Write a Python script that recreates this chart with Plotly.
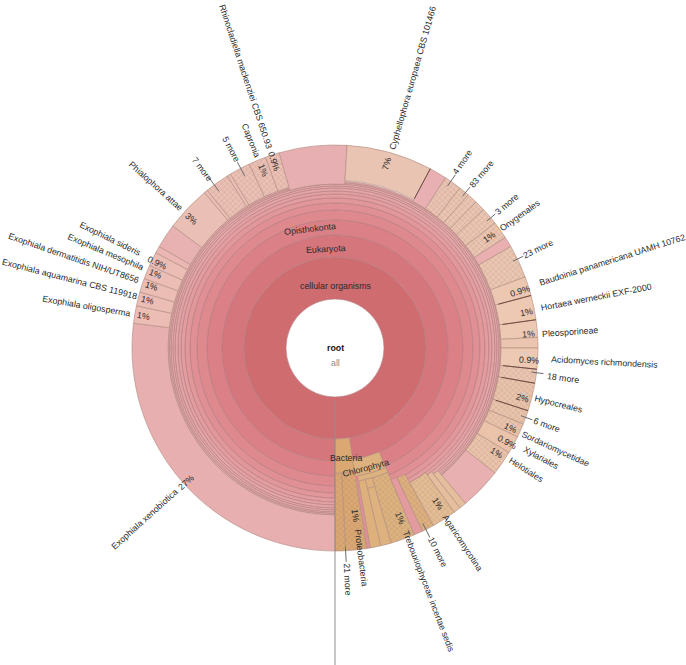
import math
import plotly.graph_objects as go

W, H = 686, 665
CX, CY, RMAX = 335, 348, 317
FS = 8.8

# ---------- data: inner taxonomy rings ----------
ring_names = ["cellular organisms", "Eukaryota", "Opisthokonta", "", "", "", "", "", "", "", "", "", ""]
ring_outer = [91, 113, 128, 138, 145, 150, 154, 157, 160, 162, 164, 165.5, 167]
ring_start = [0, 180, 180, 180, 180, 180, 180, 180, 180, 180, 180, 180, 180]
ring_end = [360, 531, 517, 517, 517, 517, 517, 517, 517, 517, 517, 517, 517]
ring_color = ["#CF6C70", "#D4767B", "#DA8086", "#DE898E", "#E09095", "#E2979B", "#E39CA0",
              "#E4A1A4", "#E4A5A7", "#E4A8A9", "#E4AAAA", "#E3ACAA", "#E2ADA9"]

# ---------- data: outer segments (name, start deg, end deg, inner radius) ----------
leaf_name = ["", "Cyphellophora europaea", "", "4 more", "83 more a", "83 more b", "83 more c", "3 more", "Onygenales", "",
             "23 more", "Baudoinia", "Hortaea", "Pleosporineae", "", "Acidomyces", "18 more", "Hypocreales", "6 more",
             "Sordariomycetidae", "Xylariales", "Helotiales", "", "", "", "Agaricomycotina", "10 more", "",
             "Trebouxiophyceae", "", "", "", "Proteobacteria", "21 more",
             "Bacteria", "Chlorophyta", "", "", "Exophiala xenobiotica", "E. oligosperma", "E. aquamarina", "E. dermatitidis",
             "E. mesophila", "E. sideris", "", "", "Phialophora attae", "", "7 more", "", "5 more", "Capronia", "Rhinocladiella"]
leaf_start = [344, 3.4, 28, 33, 38, 41, 44, 47, 52, 57,
              60, 69.5, 75, 82, 87, 90, 96, 100, 108,
              112, 116, 121, 128, 140, 142, 144, 151, 154.5,
              157, 164, 167, 170, 171, 177,
              171, 157, 157, 164, 180, 277, 282, 286,
              290, 294, 298, 300, 307, 320, 321, 328, 329, 335, 340]
leaf_end = [363.4, 28, 33, 38, 41, 44, 47, 52, 57, 60,
            69.5, 75, 82, 87, 90, 96, 100, 108, 112,
            116, 121, 128, 140, 142, 144, 151, 154.5, 157,
            164, 167, 170, 171, 177, 180,
            180, 171, 170, 167, 277, 282, 286, 290,
            294, 298, 300, 307, 320, 321, 328, 329, 335, 340, 344]
leaf_inner = [164, 168, 166, 166, 166, 166, 166, 166, 166, 166,
              166, 166, 166, 166, 166, 166, 166, 166, 166,
              166, 166, 166, 166, 160, 157, 154, 144, 143,
              135, 144, 135, 130, 125, 125,
              91, 113, 130, 135, 167, 167, 167, 167,
              167, 167, 167, 167, 167, 167, 167, 167, 167, 167, 167]
leaf_outer = [203] * 34 + [125, 130, 135, 144] + [203] * 15
leaf_color = ["#E8AFB2", "#E9C4B3", "#E9B0B4", "#EBC3B2", "#EBC5B2", "#EBC5B2", "#EBC5B2", "#EBC5B1", "#EBC5B1", "#E9AFB1",
              "#EBC6B1", "#ECC7B2", "#EDC8B2", "#EDC8B2", "#EBC5B0", "#EDC8B2", "#EBC5B0", "#EAC3AB", "#EAC3AB",
              "#EBC3AA", "#EBC3AA", "#EBC3AA", "#E8B0B1", "#E5BE9E", "#E5BE9E", "#E5BD95", "#DEB080", "#E39BA0",
              "#DEB27F", "#DEB27F", "#DEB07C", "#E0909A", "#DBA873", "#DBA873",
              "#DBA873", "#DEB27F", "#DEB27F", "#DEB27F", "#E8AFB1", "#EBBDB5", "#EBBDB5", "#EBBDB5",
              "#EBBDB5", "#EBBDB5", "#EBB6B3", "#E9B2B2", "#EAC0B6", "#EBBDB5", "#ECC0B4", "#EBBDB5", "#ECC0B4", "#ECC0B4", "#ECC0B4"]
hatched = {"4 more", "83 more a", "83 more b", "83 more c", "3 more", "Onygenales", "23 more", "18 more",
           "6 more", "Hypocreales", "Agaricomycotina", "10 more", "Proteobacteria", "21 more",
           "Trebouxiophyceae", "7 more", "5 more", "Capronia", "Rhinocladiella", "Sordariomycetidae", "Helotiales"}

dark_boundaries = [28, 75, 82, 96, 100, 108]

# ---------- data: text ----------
right_labels = ["Cyphellophora europaea CBS 101466", "4 more", "83 more", "3 more", "Onygenales", "23 more",
                "Baudoinia panamericana UAMH 10762", "Hortaea werneckii EXF-2000", "Pleosporineae",
                "Acidomyces richmondensis", "18 more", "Hypocreales", "6 more", "Sordariomycetidae", "Xylariales",
                "Helotiales", "Agaricomycotina", "10 more", "Trebouxiophyceae incertae sedis", "Proteobacteria", "21 more"]
right_theta = [16, 34.5, 40, 50, 54.3, 64, 72.4, 79, 86, 93, 97.5, 104, 110, 114.5, 118, 122.4, 146.8, 153.4, 159, 172.8, 177]
right_start = [208, 212, 212, 211, 205, 210, 215, 209, 207, 215, 214, 206, 212, 206, 214, 207, 200, 213, 195, 183, 216]
left_labels = ["Exophiala xenobiotica", "Exophiala oligosperma", "Exophiala aquamarina CBS 119918",
               "Exophiala dermatitidis NIH/UT8656", "Exophiala mesophila", "Exophiala sideris", "Phialophora attae",
               "7 more", "5 more", "Capronia", "Rhinocladiella mackenziei CBS 650.93"]
left_theta = [228, 279.7, 284.5, 289, 292.7, 296, 312, 323.5, 332.3, 338, 341.7]
left_end = [212, 207, 204.5, 207, 207, 215, 207, 210, 211, 206, 209]
pct_text = ["7%", "1%", "0.9%", "1%", "1%", "0.9%", "2%", "1%", "0.9%", "1%", "1%", "1%", "1%",
            "27%", "1%", "1%", "1%", "1%", "0.9%", "3%", "1%", "0.9%"]
pct_theta = [15.7, 54.4, 72.9, 79.4, 85.8, 93.5, 105, 114.5, 118.7, 123, 146.6, 159, 173,
             228, 279.5, 284.3, 288.6, 292.5, 295.5, 312, 338, 342]
pct_r = [192, 190, 194, 195, 194, 194, 194, 193, 196, 193, 187, 182, 169,
         200, 194, 194, 194, 194, 197, 193, 192, 196]
inner_text = ["cellular organisms", "Eukaryota", "Opisthokonta", "Bacteria", "Chlorophyta"]
inner_theta = [0, 355, 348.1, 174.5, 165.5]
inner_r = [62, 99, 122, 111, 124]
inner_rot = [0, -3, -7, 0, -15]
leader_theta = [34.8, 40, 50.1, 64, 97, 110, 153.4, 177, 323.5, 332.3, 180]
leader_from = [197, 198, 198, 198, 198, 198, 196, 199, 195, 194, 52]
leader_to = [211, 210, 209, 209, 210, 210, 212, 214, 212, 210, 317]
leader_color = ["#6A6A6A"] * 10 + ["#8F8F8F"]

FONT = "Liberation Sans, Arial, sans-serif"


def text_width(s, size):
    total = 0.0
    for c in s:
        if c in "iljtfrI.,:;/ ":
            total += 0.29
        elif c == "%":
            total += 0.85
        elif c in "mwMW":
            total += 0.82
        elif c.isupper():
            total += 0.68
        else:
            total += 0.54
    return total * size


def paper(theta, r):
    t = math.radians(theta)
    return (CX + r * math.sin(t)) / W, 1 - (CY - r * math.cos(t)) / H


fig = go.Figure()

# inner rings
ring_in = [49] + ring_outer[:-1]
fig.add_trace(go.Barpolar(
    theta=[(a + b) / 2 for a, b in zip(ring_start, ring_end)],
    width=[b - a for a, b in zip(ring_start, ring_end)],
    base=ring_in,
    r=[o - i for o, i in zip(ring_outer, ring_in)],
    text=ring_names, hoverinfo="text",
    marker=dict(color=ring_color, line=dict(color="#B27A7D", width=0.6)),
    showlegend=False,
))

# outer segments
fig.add_trace(go.Barpolar(
    theta=[(a + b) / 2 for a, b in zip(leaf_start, leaf_end)],
    width=[b - a for a, b in zip(leaf_start, leaf_end)],
    base=leaf_inner,
    r=[o - i for o, i in zip(leaf_outer, leaf_inner)],
    text=leaf_name, hoverinfo="text",
    marker=dict(
        color=leaf_color,
        line=dict(color="#AE8B7E", width=0.6),
        pattern=dict(shape=["x" if n in hatched else "" for n in leaf_name],
                     size=4, solidity=0.1, fgcolor="#CDAA98"),
    ),
    showlegend=False,
))

# darker segment boundaries
for a in dark_boundaries:
    fig.add_trace(go.Scatterpolar(theta=[a, a], r=[169, 203], mode="lines",
                                  line=dict(color="#6E4A42", width=1), hoverinfo="skip", showlegend=False))

# leader lines
for a, r0, r1, c in zip(leader_theta, leader_from, leader_to, leader_color):
    fig.add_trace(go.Scatterpolar(theta=[a, a], r=[r0, r1], mode="lines",
                                  line=dict(color=c, width=1), hoverinfo="skip", showlegend=False))

ann = []


def add_text(s, x, y, rot, size=FS, color="#2A2A2A", bold=False):
    ann.append(dict(x=x, y=y, xref="paper", yref="paper", text=f"<b>{s}</b>" if bold else s, showarrow=False,
                    textangle=rot, xanchor="center", yanchor="middle", align="center",
                    font=dict(family=FONT, size=size, color=color), borderpad=0))


for s, th, r0 in zip(right_labels, right_theta, right_start):
    r = r0 + text_width(s, FS) / 2
    x, y = paper(th, r)
    add_text(s, x, y, th - 90)

for s, th, r1 in zip(left_labels, left_theta, left_end):
    r = r1 + text_width(s, FS) / 2
    x, y = paper(th, r)
    add_text(s, x, y, th - 270)

for s, th, r in zip(pct_text, pct_theta, pct_r):
    x, y = paper(th, r)
    rot = th - 90 if th < 180 else th - 270
    add_text(s, x, y, rot)

for s, th, r, rot in zip(inner_text, inner_theta, inner_r, inner_rot):
    x, y = paper(th, r)
    add_text(s, x, y, rot)

add_text("root", CX / W, 1 - CY / H, 0, color="#111111", bold=True)
add_text("all", CX / W, 1 - (CY + 15) / H, 0, color="#8A8A8A")

fig.update_layout(
    width=W, height=H, margin=dict(l=0, r=0, t=0, b=0),
    paper_bgcolor="white", plot_bgcolor="white",
    polar=dict(
        domain=dict(x=[(CX - RMAX) / W, (CX + RMAX) / W], y=[1 - (CY + RMAX) / H, 1 - (CY - RMAX) / H]),
        bgcolor="rgba(0,0,0,0)", barmode="overlay", bargap=0,
        radialaxis=dict(range=[0, RMAX], visible=False),
        angularaxis=dict(visible=False, direction="clockwise", rotation=90),
    ),
    annotations=ann,
    showlegend=False,
)

fig.write_html("out.html", config=dict(displayModeBar=False),
               post_script="document.body.style.margin='0';document.documentElement.style.overflow='hidden';")
